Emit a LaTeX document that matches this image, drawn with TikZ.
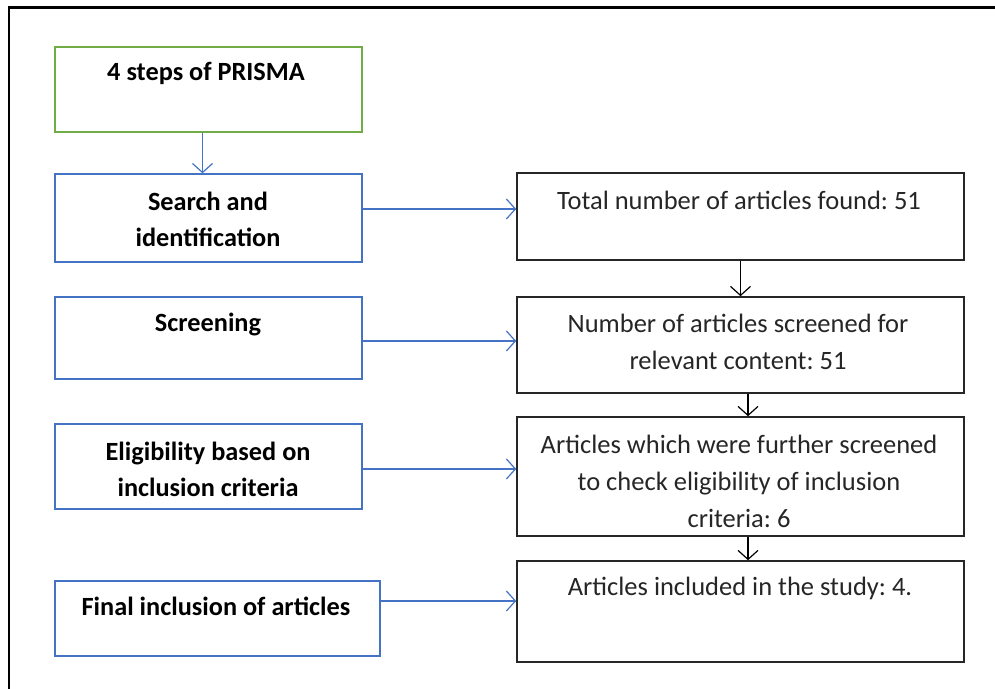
\documentclass[tikz,border=0pt]{standalone}
\usepackage{fontspec}
\setmainfont{Carlito}
\frenchspacing
\usetikzlibrary{arrows.meta}
\definecolor{pblue}{HTML}{4472C4}
\definecolor{pgreen}{HTML}{70AD47}
\definecolor{pdark}{HTML}{262626}
\begin{document}
\begin{tikzpicture}[x=1pt,y=-1pt,
  gbox/.style={draw=pgreen,line width=1.4pt,rectangle,inner sep=0pt},
  bbox/.style={draw=pblue,line width=1.4pt,rectangle,inner sep=0pt},
  kbox/.style={draw=pdark,line width=1.6pt,rectangle,inner sep=0pt},
  ltxt/.style={align=center,text=black,font=\fontsize{26.3}{36}\selectfont\bfseries,inner sep=0pt},
  rtxt/.style={align=center,text=pdark,font=\fontsize{26.5}{37}\selectfont,inner sep=0pt},
  barr/.style={draw=pblue,line width=1.2pt,-{Straight Barb[length=9pt,width=20pt]}},
  karr/.style={draw=black,line width=1.2pt,-{Straight Barb[length=9pt,width=20pt]}}]
\useasboundingbox (0,0) rectangle (995,688);
\fill[white] (0,0) rectangle (995,688);
\draw[line width=2.6pt,line cap=rect] (9,688) -- (9,7.5) -- (995,7.5);
% left boxes
\node[gbox,minimum width=307pt,minimum height=85pt] (b0) at (208.5,89.5) {};
\node[bbox,minimum width=307pt,minimum height=88pt] (b1) at (208.5,218) {};
\node[bbox,minimum width=307pt,minimum height=82pt] (b2) at (208.5,338) {};
\node[bbox,minimum width=307pt,minimum height=85pt] (b3) at (208.5,466.5) {};
\node[bbox,minimum width=325pt,minimum height=75pt] (b4) at (217.5,618.5) {};
% right boxes
\node[kbox,minimum width=447pt,minimum height=87pt] (r1) at (740.5,216.5) {};
\node[kbox,minimum width=447pt,minimum height=96pt] (r2) at (740.5,345) {};
\node[kbox,minimum width=447pt,minimum height=119pt] (r3) at (740.5,476.5) {};
\node[kbox,minimum width=447pt,minimum height=101pt] (r4) at (740.5,611.5) {};
% texts
\node[ltxt] (t0) at (206,73) {4 steps of PRISMA};
\node[ltxt] (t1) at (208,219) {Search and\\identification};
\node[ltxt] (t2) at (208,324) {Screening};
\node[ltxt] (t3) at (208,469.5) {Eligibility based on\\inclusion criteria};
\node[ltxt] (t4) at (216,606) {Final inclusion of articles};
\node[rtxt] (s1) at (739,200) {Total number of articles found: 51};
\node[rtxt] (s2) at (738,342) {Number of articles screened for\\relevant content: 51};
\node[rtxt] (s3) at (739,481) {Articles which were further screened\\to check eligibility of inclusion\\criteria: 6};
\node[rtxt] (s4) at (740,588) {Articles included in the study: 4.};
% connectors
\draw[barr] ([xshift=-6pt]b0.south) -- ([xshift=-6pt]b1.north);
\draw[barr] ([yshift=9pt]b1.east) -- ([yshift=9pt]b1.east -| r1.west);
\draw[barr] ([yshift=-3pt]b2.east) -- ([yshift=-3pt]b2.east -| r2.west);
\draw[barr] ([yshift=-2.5pt]b3.east) -- ([yshift=-2.5pt]b3.east -| r3.west);
\draw[barr] ([yshift=17.5pt]b4.east) -- ([yshift=17.5pt]b4.east -| r4.west);
\draw[karr] (r1.south) -- (r2.north);
\draw[karr] ([xshift=7.5pt]r2.south) -- ([xshift=7.5pt]r3.north);
\draw[karr] ([xshift=7.5pt]r3.south) -- ([xshift=7.5pt]r4.north);
\end{tikzpicture}
\end{document}
